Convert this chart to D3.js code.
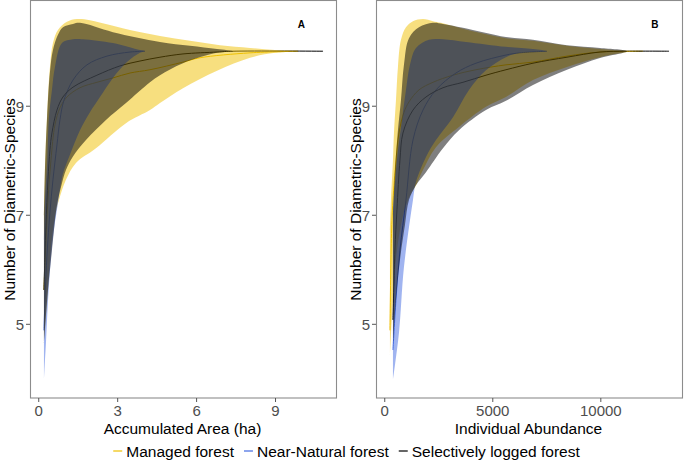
<!DOCTYPE html>
<html><head><meta charset="utf-8">
<script src="https://cdn.jsdelivr.net/npm/d3@7"></script>
<style>
body{margin:0;background:#fff}
svg{display:block}
text{font-family:"Liberation Sans",Arial,Helvetica,sans-serif}
</style>
</head><body>
<svg id="chart" width="685" height="462"></svg>
<script>
// ---------- data ----------
const seriesNames  = ["Managed forest", "Near-Natural forest", "Selectively logged forest"];
const seriesColors = ["#EFC000", "#4169E1", "#000000"];
const yTicks  = [5, 7, 9];
const xTicksA = [0, 3, 6, 9];
const xTicksB = [0, 5000, 10000];
const xTitleA = "Accumulated Area (ha)";
const xTitleB = "Individual Abundance";
const yTitle  = "Number of Diametric-Species";
const panelTags = ["A", "B"];

// Panel A (x = accumulated area, ha)
const A_managed_mean  = [[0.217,5.62],[0.293,6.54],[0.369,7.27],[0.483,8.00],[0.635,8.65],[0.825,8.96],[1.091,9.16],[1.586,9.33],[2.232,9.43],[2.840,9.51],[3.487,9.60],[4.247,9.66],[5.502,9.80],[6.148,9.88],[8.049,9.97],[9.874,10.0]];
const A_managed_lower = [[0.217,4.65],[0.350,5.44],[0.445,6.17],[0.559,6.72],[0.673,7.05],[0.787,7.27],[1.053,7.64],[1.433,7.95],[2.194,8.22],[3.335,8.68],[4.247,8.92],[4.627,9.05],[5.502,9.32],[6.795,9.64],[8.049,9.88],[8.999,9.97],[9.874,10.0]];
const A_managed_upper = [[0.217,6.99],[0.255,7.88],[0.331,8.79],[0.445,9.71],[0.559,10.15],[0.749,10.39],[1.091,10.54],[1.471,10.59],[1.966,10.57],[2.726,10.48],[3.487,10.39],[4.627,10.28],[5.768,10.19],[6.909,10.11],[8.049,10.06],[8.999,10.02],[9.874,10.0]];

const A_near_mean  = [[0.217,4.88],[0.293,5.90],[0.369,6.54],[0.445,7.05],[0.559,7.64],[0.711,8.28],[0.825,8.74],[0.977,9.10],[1.319,9.47],[1.852,9.75],[2.612,9.91],[3.487,9.985],[4.057,10.0]];
const A_near_lower = [[0.217,3.97],[0.255,4.33],[0.293,4.65],[0.395,5.62],[0.548,6.54],[0.738,7.18],[0.928,7.73],[1.205,8.10],[1.586,8.55],[1.966,8.88],[2.346,9.16],[2.840,9.51],[3.373,9.80],[3.867,9.97],[4.057,10.0]];
const A_near_upper = [[0.217,6.54],[0.255,7.27],[0.331,7.88],[0.407,8.79],[0.521,9.29],[0.635,9.71],[0.901,10.15],[1.319,10.22],[1.700,10.22],[2.840,10.15],[3.867,10.02],[4.057,10.0]];

const A_logged_mean  = [[0.217,5.62],[0.255,6.26],[0.293,6.81],[0.369,7.64],[0.445,8.19],[0.521,8.50],[0.711,8.92],[0.939,9.16],[1.319,9.34],[2.232,9.56],[3.106,9.73],[3.867,9.82],[4.627,9.89],[5.502,9.95],[6.795,9.985],[7.403,10.0],[10.825,10.0]];
const A_logged_lower = [[0.217,4.65],[0.369,5.62],[0.502,6.26],[0.597,6.72],[0.673,7.05],[0.749,7.27],[0.901,7.58],[1.053,7.82],[1.308,8.06],[1.814,8.37],[2.574,8.74],[3.335,9.05],[4.247,9.43],[4.627,9.56],[5.502,9.78],[6.795,9.97],[7.403,10.0]];
const A_logged_upper = [[0.217,6.99],[0.255,7.82],[0.331,8.74],[0.445,9.62],[0.559,10.02],[0.749,10.30],[0.939,10.44],[1.319,10.50],[1.586,10.52],[2.840,10.35],[4.627,10.17],[5.768,10.10],[6.795,10.04],[7.403,10.0]];

// Panel B (x = individual abundance)
const B_managed_mean  = [[264,4.88],[310,6.17],[356,6.90],[403,7.27],[542,8.00],[680,8.50],[912,8.88],[1144,9.07],[1606,9.29],[2255,9.43],[3181,9.56],[4245,9.66],[5634,9.75],[6884,9.80],[8458,9.91],[9986,9.985],[11977,10.0]];
const B_managed_lower = [[264,4.43],[403,5.43],[588,6.35],[819,6.90],[1097,7.27],[1468,7.54],[1792,7.82],[2394,8.24],[3458,8.61],[4708,8.98],[5634,9.16],[6884,9.47],[8458,9.71],[9986,9.89],[11236,9.985],[11838,10.0]];
const B_managed_upper = [[264,6.72],[310,7.27],[403,8.00],[449,8.50],[542,9.10],[634,9.71],[773,10.21],[1005,10.44],[1329,10.55],[1792,10.59],[2255,10.55],[2625,10.52],[3644,10.41],[5634,10.24],[6884,10.19],[8458,10.10],[9986,10.04],[11236,10.004],[11838,10.0]];

const B_near_mean  = [[403,4.52],[542,5.43],[727,6.35],[1005,7.27],[1329,8.37],[1792,8.92],[2394,9.29],[3319,9.60],[4245,9.78],[5634,9.93],[6282,9.97],[7532,10.0]];
const B_near_lower = [[403,3.97],[680,4.83],[912,6.04],[1329,7.27],[1468,7.60],[1931,8.06],[2394,8.37],[3181,8.79],[3921,9.29],[4708,9.65],[5634,9.89],[6282,9.97],[7532,10.0]];
const B_near_upper = [[403,7.09],[588,8.00],[819,8.74],[1005,9.29],[1190,9.75],[1468,10.06],[2069,10.21],[2718,10.22],[3782,10.17],[5634,10.08],[6884,10.04],[7532,10.0]];

const B_logged_mean  = [[403,5.07],[495,6.35],[588,7.09],[727,8.00],[866,8.50],[1329,8.92],[1931,9.16],[2718,9.33],[3644,9.43],[4708,9.56],[5634,9.66],[6884,9.78],[8458,9.89],[9986,9.985],[11236,10.0],[13181,10.0]];
const B_logged_lower = [[403,4.61],[542,5.43],[727,6.17],[958,6.81],[1144,7.27],[1468,7.54],[1931,7.78],[2718,8.22],[3458,8.55],[4708,8.92],[5634,9.09],[6884,9.38],[8458,9.66],[9986,9.875],[11236,10.0]];
const B_logged_upper = [[403,6.99],[495,7.82],[634,8.55],[773,9.10],[912,9.75],[1144,10.24],[1606,10.44],[2255,10.52],[2718,10.50],[3644,10.43],[5634,10.26],[6884,10.21],[8458,10.11],[9986,10.06],[11236,10.0]];

// ---------- layout ----------
const svg = d3.select("#chart");
const plotTop = 1, plotBottom = 398;
const panels = [
  {tag: panelTags[0], left: 30, right: 337, xTicks: xTicksA, xTitle: xTitleA, tagX: 10.0,
   mean: [A_managed_mean, A_near_mean, A_logged_mean],
   lower: [A_managed_lower, A_near_lower, A_logged_lower],
   upper: [A_managed_upper, A_near_upper, A_logged_upper]},
  {tag: panelTags[1], left: 376, right: 683, xTicks: xTicksB, xTitle: xTitleB, tagX: 12530,
   mean: [B_managed_mean, B_near_mean, B_logged_mean],
   lower: [B_managed_lower, B_near_lower, B_logged_lower],
   upper: [B_managed_upper, B_near_upper, B_logged_upper]}
];

function expand(ext, f) { const r = ext[1]-ext[0]; return [ext[0]-r*f, ext[1]+r*f]; }

const allY = [];
panels.forEach(p => [p.mean, p.lower, p.upper].forEach(g => g.forEach(s => s.forEach(d => allY.push(d[1])))));
const yDomain = expand(d3.extent(allY), 0.05);

panels.forEach(p => {
  const allX = [];
  [p.mean, p.lower, p.upper].forEach(g => g.forEach(s => s.forEach(d => allX.push(d[0]))));
  const x = d3.scaleLinear().domain(expand(d3.extent(allX), 0.05)).range([p.left, p.right]);
  const y = d3.scaleLinear().domain(yDomain).range([plotBottom, plotTop]);

  const g = svg.append("g");
  const clipId = "clip" + p.tag;
  svg.append("clipPath").attr("id", clipId).append("rect")
    .attr("x", p.left).attr("y", plotTop).attr("width", p.right - p.left).attr("height", plotBottom - plotTop);
  const inner = g.append("g").attr("clip-path", `url(#${clipId})`);

  const lineGen = d3.line().x(d => x(d[0])).y(d => y(d[1])).curve(d3.curveCatmullRom.alpha(0.5));

  // lines first (ribbons overlay them)
  p.mean.forEach((s, i) => {
    inner.append("path").attr("d", lineGen(s)).attr("fill", "none")
      .attr("stroke", seriesColors[i]).attr("stroke-width", 1);
  });
  // ribbons
  p.upper.forEach((up, i) => {
    const lo = p.lower[i].slice().reverse();
    let pts = up.concat(lo);
    pts = pts.filter((d, k) => k === 0 || d[0] !== pts[k-1][0] || d[1] !== pts[k-1][1]);
    inner.append("path").attr("d", lineGen(pts) + "Z")
      .attr("fill", seriesColors[i]).attr("fill-opacity", 0.5).attr("stroke", "none");
  });

  // border
  g.append("rect").attr("x", p.left + 0.5).attr("y", plotTop - 0.5)
    .attr("width", p.right - p.left - 1).attr("height", plotBottom - plotTop + 0.5)
    .attr("fill", "none").attr("stroke", "#8c8c8c").attr("stroke-width", 1.1);

  // y axis
  const yAxis = d3.axisLeft(y).tickValues(yTicks).tickSize(4).tickPadding(2).tickFormat(d3.format("d"));
  const ya = g.append("g").attr("transform", `translate(${p.left},0)`).call(yAxis);
  ya.select(".domain").remove();
  ya.selectAll("line").attr("stroke", "#555");
  ya.selectAll("text").attr("fill", "#4d4d4d").style("font-size", "15px").attr("dy", "0.36em");

  // x axis
  const xAxis = d3.axisBottom(x).tickValues(p.xTicks).tickSize(4).tickPadding(3).tickFormat(d3.format("d"));
  const xa = g.append("g").attr("transform", `translate(0,${plotBottom})`).call(xAxis);
  xa.select(".domain").remove();
  xa.selectAll("line").attr("stroke", "#555");
  xa.selectAll("text").attr("fill", "#4d4d4d").style("font-size", "15px").attr("dy", "0.71em");

  // titles
  g.append("text").attr("x", (p.left + p.right) / 2 - 1).attr("y", 433.5)
    .attr("text-anchor", "middle").style("font-size", "15.5px").attr("fill", "#000").text(p.xTitle);
  g.append("text").attr("transform", `translate(${p.left - 15},${(plotTop + plotBottom) / 2}) rotate(-90)`)
    .attr("text-anchor", "middle").style("font-size", "15.5px").attr("fill", "#000").text(yTitle);

  // panel tag
  g.append("text").attr("x", x(p.tagX)).attr("y", 28).attr("text-anchor", "middle")
    .style("font-size", "10px").style("font-weight", "bold").attr("fill", "#000").text(p.tag);
});

// ---------- legend ----------
const leg = svg.append("g");
const keyLen = 9, keyGap = 4, itemGap = 10;
let cx = 0;
seriesNames.forEach((name, i) => {
  const it = leg.append("g");
  it.append("line").attr("x1", 0).attr("x2", keyLen).attr("y1", 451).attr("y2", 451)
    .attr("stroke", seriesColors[i]).attr("stroke-width", 1.2);
  const t = it.append("text").attr("x", keyLen + keyGap).attr("y", 456.5)
    .style("font-size", "15.5px").attr("fill", "#000").text(name);
  const w = keyLen + keyGap + t.node().getComputedTextLength();
  it.attr("transform", `translate(${cx},0)`);
  cx += w + itemGap;
});
const total = cx - itemGap;
leg.attr("transform", `translate(${346.5 - total / 2},0)`);
</script>
</body></html>
